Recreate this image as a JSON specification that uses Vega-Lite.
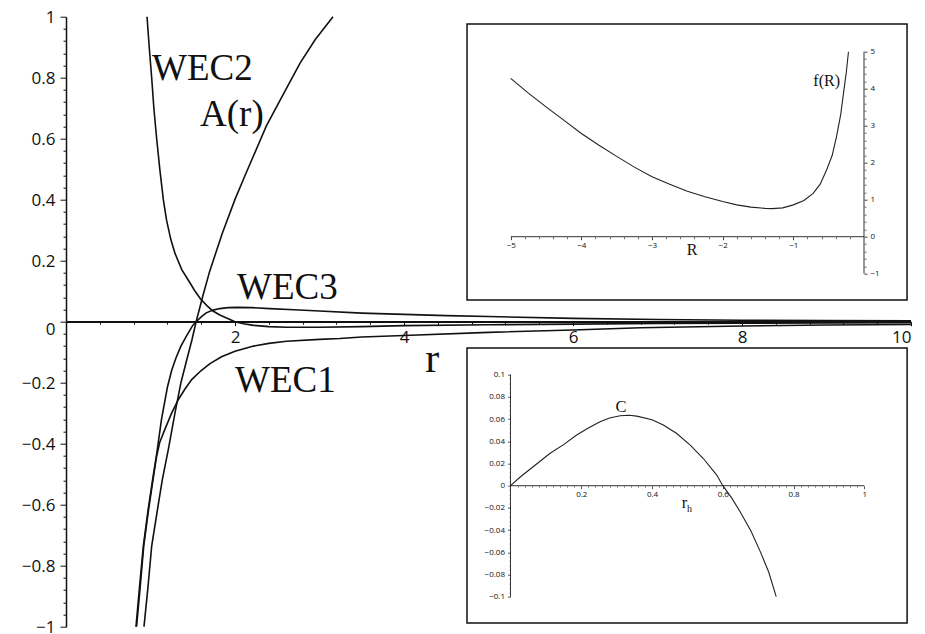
{
  "$schema": "https://vega.github.io/schema/vega-lite/v6.json",
  "autosize": {"type": "none"},
  "padding": {"left": 66, "top": 16.7, "right": 14, "bottom": 7.3},
  "background": "white",
  "width": 845,
  "height": 610,
  "config": {
    "axis": {"grid": false, "domainColor": "#111", "tickColor": "#111", "labelColor": "#111", "labelFont": "Open Sans", "labelOverlap": false, "labelFlush": false, "title": null},
    "view": {"stroke": null}
  },
  "resolve": {
    "scale": {"x": "independent", "y": "independent"},
    "axis": {"x": "independent", "y": "independent"}
  },
  "layer": [
    {
      "data": {"values": [
        {"s": "WEC2", "r": 0.959, "v": 1.0}, {"s": "WEC2", "r": 0.985, "v": 0.9}, {"s": "WEC2", "r": 1.014, "v": 0.8}, {"s": "WEC2", "r": 1.04, "v": 0.7}, {"s": "WEC2", "r": 1.073, "v": 0.6}, {"s": "WEC2", "r": 1.11, "v": 0.5}, {"s": "WEC2", "r": 1.152, "v": 0.4}, {"s": "WEC2", "r": 1.19, "v": 0.333}, {"s": "WEC2", "r": 1.24, "v": 0.27}, {"s": "WEC2", "r": 1.29, "v": 0.224}, {"s": "WEC2", "r": 1.37, "v": 0.171}, {"s": "WEC2", "r": 1.45, "v": 0.135}, {"s": "WEC2", "r": 1.52, "v": 0.103}, {"s": "WEC2", "r": 1.59, "v": 0.075}, {"s": "WEC2", "r": 1.67, "v": 0.052}, {"s": "WEC2", "r": 1.74, "v": 0.035}, {"s": "WEC2", "r": 1.82, "v": 0.022}, {"s": "WEC2", "r": 1.9, "v": 0.012}, {"s": "WEC2", "r": 2.0, "v": 0.0}, {"s": "WEC2", "r": 2.1, "v": -0.007}, {"s": "WEC2", "r": 2.22, "v": -0.012}, {"s": "WEC2", "r": 2.4, "v": -0.016}, {"s": "WEC2", "r": 2.61, "v": -0.018}, {"s": "WEC2", "r": 3.0, "v": -0.018}, {"s": "WEC2", "r": 3.5, "v": -0.016}, {"s": "WEC2", "r": 4.0, "v": -0.013}, {"s": "WEC2", "r": 5.0, "v": -0.01}, {"s": "WEC2", "r": 6.0, "v": -0.008}, {"s": "WEC2", "r": 7.0, "v": -0.006}, {"s": "WEC2", "r": 8.0, "v": -0.005}, {"s": "WEC2", "r": 9.0, "v": -0.004}, {"s": "WEC2", "r": 10.0, "v": -0.003},
        {"s": "A", "r": 0.923, "v": -1.0}, {"s": "A", "r": 0.97, "v": -0.87}, {"s": "A", "r": 1.014, "v": -0.736}, {"s": "A", "r": 1.08, "v": -0.62}, {"s": "A", "r": 1.14, "v": -0.518}, {"s": "A", "r": 1.21, "v": -0.42}, {"s": "A", "r": 1.29, "v": -0.299}, {"s": "A", "r": 1.36, "v": -0.2}, {"s": "A", "r": 1.43, "v": -0.124}, {"s": "A", "r": 1.49, "v": -0.06}, {"s": "A", "r": 1.54, "v": 0.0}, {"s": "A", "r": 1.62, "v": 0.085}, {"s": "A", "r": 1.7, "v": 0.165}, {"s": "A", "r": 1.85, "v": 0.29}, {"s": "A", "r": 2.0, "v": 0.401}, {"s": "A", "r": 2.12, "v": 0.48}, {"s": "A", "r": 2.37, "v": 0.641}, {"s": "A", "r": 2.55, "v": 0.735}, {"s": "A", "r": 2.77, "v": 0.848}, {"s": "A", "r": 2.95, "v": 0.925}, {"s": "A", "r": 3.16, "v": 1.0},
        {"s": "WEC3", "r": 0.828, "v": -1.0}, {"s": "WEC3", "r": 0.87, "v": -0.87}, {"s": "WEC3", "r": 0.915, "v": -0.736}, {"s": "WEC3", "r": 0.97, "v": -0.62}, {"s": "WEC3", "r": 1.025, "v": -0.518}, {"s": "WEC3", "r": 1.075, "v": -0.43}, {"s": "WEC3", "r": 1.13, "v": -0.32}, {"s": "WEC3", "r": 1.2, "v": -0.215}, {"s": "WEC3", "r": 1.25, "v": -0.16}, {"s": "WEC3", "r": 1.3, "v": -0.12}, {"s": "WEC3", "r": 1.36, "v": -0.08}, {"s": "WEC3", "r": 1.43, "v": -0.045}, {"s": "WEC3", "r": 1.5, "v": -0.012}, {"s": "WEC3", "r": 1.54, "v": 0.0}, {"s": "WEC3", "r": 1.6, "v": 0.016}, {"s": "WEC3", "r": 1.66, "v": 0.029}, {"s": "WEC3", "r": 1.74, "v": 0.038}, {"s": "WEC3", "r": 1.82, "v": 0.043}, {"s": "WEC3", "r": 1.92, "v": 0.046}, {"s": "WEC3", "r": 2.02, "v": 0.047}, {"s": "WEC3", "r": 2.2, "v": 0.046}, {"s": "WEC3", "r": 2.41, "v": 0.043}, {"s": "WEC3", "r": 2.7, "v": 0.039}, {"s": "WEC3", "r": 3.0, "v": 0.035}, {"s": "WEC3", "r": 3.5, "v": 0.028}, {"s": "WEC3", "r": 4.0, "v": 0.024}, {"s": "WEC3", "r": 4.5, "v": 0.02}, {"s": "WEC3", "r": 5.0, "v": 0.017}, {"s": "WEC3", "r": 6.0, "v": 0.011}, {"s": "WEC3", "r": 7.0, "v": 0.007}, {"s": "WEC3", "r": 8.0, "v": 0.005}, {"s": "WEC3", "r": 9.0, "v": 0.004}, {"s": "WEC3", "r": 10.0, "v": 0.003},
        {"s": "WEC1", "r": 0.835, "v": -1.0}, {"s": "WEC1", "r": 0.878, "v": -0.87}, {"s": "WEC1", "r": 0.92, "v": -0.736}, {"s": "WEC1", "r": 0.975, "v": -0.62}, {"s": "WEC1", "r": 1.03, "v": -0.518}, {"s": "WEC1", "r": 1.07, "v": -0.445}, {"s": "WEC1", "r": 1.11, "v": -0.395}, {"s": "WEC1", "r": 1.17, "v": -0.353}, {"s": "WEC1", "r": 1.25, "v": -0.3}, {"s": "WEC1", "r": 1.33, "v": -0.255}, {"s": "WEC1", "r": 1.41, "v": -0.22}, {"s": "WEC1", "r": 1.49, "v": -0.189}, {"s": "WEC1", "r": 1.6, "v": -0.16}, {"s": "WEC1", "r": 1.7, "v": -0.138}, {"s": "WEC1", "r": 1.84, "v": -0.115}, {"s": "WEC1", "r": 2.0, "v": -0.097}, {"s": "WEC1", "r": 2.22, "v": -0.08}, {"s": "WEC1", "r": 2.4, "v": -0.071}, {"s": "WEC1", "r": 2.61, "v": -0.064}, {"s": "WEC1", "r": 3.0, "v": -0.058}, {"s": "WEC1", "r": 3.24, "v": -0.055}, {"s": "WEC1", "r": 3.5, "v": -0.05}, {"s": "WEC1", "r": 4.0, "v": -0.045}, {"s": "WEC1", "r": 5.0, "v": -0.035}, {"s": "WEC1", "r": 6.0, "v": -0.027}, {"s": "WEC1", "r": 6.8, "v": -0.02}, {"s": "WEC1", "r": 8.0, "v": -0.014}, {"s": "WEC1", "r": 9.0, "v": -0.011}, {"s": "WEC1", "r": 10.0, "v": -0.009}
      ]},
      "mark": {"type": "line", "color": "#111", "strokeWidth": 1.6},
      "encoding": {
        "x": {"field": "r", "type": "quantitative", "scale": {"domain": [0, 10], "nice": false, "zero": false},
          "axis": {"orient": "bottom", "offset": -305, "format": "~r", "values": [2, 4, 6, 8, 10],
            "tickSize": 4, "labelFontSize": 17, "labelPadding": 4, "domainWidth": 1.5, "tickWidth": 1, "labelFlush": true}},
        "y": {"field": "v", "type": "quantitative", "scale": {"domain": [-1, 1], "nice": false, "zero": false},
          "axis": {"orient": "left", "format": "~r", "values": [-1, -0.8, -0.6, -0.4, -0.2, 0.2, 0.4, 0.6, 0.8, 1],
            "tickSize": 6, "labelOffset": 1, "labelFontSize": 17, "labelPadding": 5, "domainWidth": 1.5, "tickWidth": 1}},
        "detail": {"field": "s"}
      }
    },
    {
      "data": {"values": [
        {"t": "WEC2", "r": 1.018, "v": 0.792},
        {"t": "A(r)", "r": 1.586, "v": 0.642},
        {"t": "WEC3", "r": 2.024, "v": 0.073},
        {"t": "WEC1", "r": 2.0, "v": -0.2295},
        {"t": "r", "r": 4.25, "v": -0.165}
      ]},
      "mark": {"type": "text", "font": "Liberation Serif", "align": "left", "baseline": "alphabetic", "color": "#111"},
      "encoding": {
        "x": {"field": "r", "type": "quantitative", "scale": {"domain": [0, 10], "nice": false, "zero": false},
          "axis": {"orient": "bottom", "offset": -305, "domain": false, "labels": false,
            "values": [0.4, 0.8, 1.2, 1.6, 2.4, 2.8, 3.2, 3.6, 4.4, 4.8, 5.2, 5.6, 6.4, 6.8, 7.2, 7.6, 8.4, 8.8, 9.2, 9.6],
            "tickSize": 2.5, "tickWidth": 1}},
        "y": {"field": "v", "type": "quantitative", "scale": {"domain": [-1, 1], "nice": false, "zero": false},
          "axis": {"orient": "left", "domain": false, "labels": false,
            "values": [-0.96, -0.92, -0.88, -0.84, -0.76, -0.72, -0.68, -0.64, -0.56, -0.52, -0.48, -0.44, -0.36, -0.32, -0.28, -0.24, -0.16, -0.12, -0.08, -0.04, 0.04, 0.08, 0.12, 0.16, 0.24, 0.28, 0.32, 0.36, 0.44, 0.48, 0.52, 0.56, 0.64, 0.68, 0.72, 0.76, 0.84, 0.88, 0.92, 0.96],
            "tickSize": 3, "tickWidth": 1}},
        "text": {"field": "t"},
        "size": {"condition": {"test": "datum.t === 'r'", "value": 42}, "value": 37}
      }
    },
    {
      "data": {"values": [{"a": 0, "b": 10, "v": 0}]},
      "mark": {"type": "rule", "color": "#111", "strokeWidth": 1.5},
      "encoding": {
        "x": {"field": "a", "type": "quantitative", "scale": {"domain": [0, 10], "nice": false, "zero": false}, "axis": null},
        "x2": {"field": "b"},
        "y": {"field": "v", "type": "quantitative", "scale": {"domain": [-1, 1], "nice": false, "zero": false},
          "axis": {"orient": "left", "domain": false, "format": "~r", "values": [0], "tickSize": 6, "labelOffset": 8, "labelFontSize": 17, "labelPadding": 5, "tickWidth": 1}}
      }
    },
    {
      "data": {"values": [{"x": -5.618, "x2": 0.609, "y": -1.711, "y2": 5.749}]},
      "mark": {"type": "rect", "fill": "white", "stroke": "#111", "strokeWidth": 1.5},
      "encoding": {
        "x": {"field": "x", "type": "quantitative", "scale": {"domain": [-11.2935, 0.665], "nice": false, "zero": false}, "axis": null},
        "x2": {"field": "x2"},
        "y": {"field": "y", "type": "quantitative", "scale": {"domain": [-10.541, 5.946], "nice": false, "zero": false}, "axis": null},
        "y2": {"field": "y2"}
      }
    },
    {
      "data": {"values": [{"x": -5, "x2": 0, "y": 0, "y2": 0}, {"x": 0, "x2": 0, "y": -1, "y2": 5}]},
      "mark": {"type": "rule", "color": "#333", "strokeWidth": 1},
      "encoding": {
        "x": {"field": "x", "type": "quantitative", "scale": {"domain": [-11.2935, 0.665], "nice": false, "zero": false},
          "axis": {"orient": "bottom", "offset": -390, "domain": false, "labels": false, "zindex": 2,
            "values": [-4.8, -4.6, -4.4, -4.2, -3.8, -3.6, -3.4, -3.2, -2.8, -2.6, -2.4, -2.2, -1.8, -1.6, -1.4, -1.2, -0.8, -0.6, -0.4, -0.2],
            "tickSize": 2, "tickWidth": 0.8, "tickColor": "#444"}},
        "x2": {"field": "x2"},
        "y": {"field": "y", "type": "quantitative", "scale": {"domain": [-10.541, 5.946], "nice": false, "zero": false},
          "axis": {"orient": "right", "offset": -47, "domain": false, "labels": false, "zindex": 2,
            "values": [-0.8, -0.6, -0.4, -0.2, 0.2, 0.4, 0.6, 0.8, 1.2, 1.4, 1.6, 1.8, 2.2, 2.4, 2.6, 2.8, 3.2, 3.4, 3.6, 3.8, 4.2, 4.4, 4.6, 4.8],
            "tickSize": 2, "tickWidth": 0.8, "tickColor": "#444"}},
        "y2": {"field": "y2"}
      }
    },
    {
      "data": {"values": [
        {"x": -5, "y": 4.28}, {"x": -4.75, "y": 3.88}, {"x": -4.5, "y": 3.51}, {"x": -4.25, "y": 3.15}, {"x": -4, "y": 2.79}, {"x": -3.75, "y": 2.47}, {"x": -3.5, "y": 2.17}, {"x": -3.25, "y": 1.88}, {"x": -3, "y": 1.62}, {"x": -2.75, "y": 1.42}, {"x": -2.5, "y": 1.23}, {"x": -2.25, "y": 1.08}, {"x": -2, "y": 0.95}, {"x": -1.8, "y": 0.86}, {"x": -1.6, "y": 0.8}, {"x": -1.4, "y": 0.765}, {"x": -1.3, "y": 0.76}, {"x": -1.15, "y": 0.78}, {"x": -1.0, "y": 0.86}, {"x": -0.85, "y": 0.98}, {"x": -0.72, "y": 1.17}, {"x": -0.62, "y": 1.42}, {"x": -0.53, "y": 1.8}, {"x": -0.45, "y": 2.2}, {"x": -0.39, "y": 2.7}, {"x": -0.33, "y": 3.3}, {"x": -0.29, "y": 3.88}, {"x": -0.25, "y": 4.45}, {"x": -0.22, "y": 5.0}
      ]},
      "mark": {"type": "line", "color": "#222", "strokeWidth": 1.1},
      "encoding": {
        "x": {"field": "x", "type": "quantitative", "scale": {"domain": [-11.2935, 0.665], "nice": false, "zero": false},
          "axis": {"orient": "bottom", "offset": -390, "domain": false, "format": "~r", "values": [-5, -4, -3, -2, -1], "zindex": 2,
            "tickSize": 3, "labelFontSize": 8, "labelPadding": 2, "tickWidth": 0.8}},
        "y": {"field": "y", "type": "quantitative", "scale": {"domain": [-10.541, 5.946], "nice": false, "zero": false},
          "axis": {"orient": "right", "offset": -47, "domain": false, "format": "~r", "values": [-1, 0, 1, 2, 3, 4, 5], "zindex": 2,
            "tickSize": 3, "labelFontSize": 8, "labelPadding": 3, "tickWidth": 0.8}}
      }
    },
    {
      "data": {"values": [
        {"t": "f(R)", "x": -0.717, "y": 4.07},
        {"t": "R", "x": -2.509, "y": -0.495}
      ]},
      "mark": {"type": "text", "font": "Liberation Serif", "align": "left", "baseline": "alphabetic", "color": "#111", "fontSize": 16},
      "encoding": {
        "x": {"field": "x", "type": "quantitative", "scale": {"domain": [-11.2935, 0.665], "nice": false, "zero": false}, "axis": null},
        "y": {"field": "y", "type": "quantitative", "scale": {"domain": [-10.541, 5.946], "nice": false, "zero": false}, "axis": null},
        "text": {"field": "t"}
      }
    },
    {
      "data": {"values": [{"x": -0.123, "x2": 1.121, "y": -0.1237, "y2": 0.124}]},
      "mark": {"type": "rect", "fill": "white", "stroke": "#111", "strokeWidth": 1.5},
      "encoding": {
        "x": {"field": "x", "type": "quantitative", "scale": {"domain": [-1.2564, 1.132], "nice": false, "zero": false}, "axis": null},
        "x2": {"field": "x2"},
        "y": {"field": "y", "type": "quantitative", "scale": {"domain": [-0.12703, 0.42252], "nice": false, "zero": false}, "axis": null},
        "y2": {"field": "y2"}
      }
    },
    {
      "data": {"values": [{"x": 0, "x2": 1, "y": 0, "y2": 0}, {"x": 0, "x2": 0, "y": -0.1, "y2": 0.1}]},
      "mark": {"type": "rule", "color": "#333", "strokeWidth": 1},
      "encoding": {
        "x": {"field": "x", "type": "quantitative", "scale": {"domain": [-1.2564, 1.132], "nice": false, "zero": false},
          "axis": {"orient": "bottom", "offset": -141, "domain": false, "labels": false, "zindex": 2,
            "values": [0.02, 0.04, 0.06, 0.08, 0.1, 0.12, 0.14, 0.16, 0.18, 0.22, 0.24, 0.26, 0.28, 0.3, 0.32, 0.34, 0.36, 0.38, 0.42, 0.44, 0.46, 0.48, 0.5, 0.52, 0.54, 0.56, 0.58, 0.62, 0.64, 0.66, 0.68, 0.7, 0.72, 0.74, 0.76, 0.78, 0.82, 0.84, 0.86, 0.88, 0.9, 0.92, 0.94, 0.96, 0.98],
            "tickSize": 1.5, "tickWidth": 0.7, "tickColor": "#444"}},
        "x2": {"field": "x2"},
        "y": {"field": "y", "type": "quantitative", "scale": {"domain": [-0.12703, 0.42252], "nice": false, "zero": false},
          "axis": {"orient": "left", "offset": -444.5, "domain": false, "labels": false, "zindex": 2,
            "values": [-0.096, -0.092, -0.088, -0.084, -0.076, -0.072, -0.068, -0.064, -0.056, -0.052, -0.048, -0.044, -0.036, -0.032, -0.028, -0.024, -0.016, -0.012, -0.008, -0.004, 0.004, 0.008, 0.012, 0.016, 0.024, 0.028, 0.032, 0.036, 0.044, 0.048, 0.052, 0.056, 0.064, 0.068, 0.072, 0.076, 0.084, 0.088, 0.092, 0.096],
            "tickSize": 1.5, "tickWidth": 0.7, "tickColor": "#444"}},
        "y2": {"field": "y2"}
      }
    },
    {
      "data": {"values": [
        {"x": 0, "y": 0}, {"x": 0.03, "y": 0.0085}, {"x": 0.064, "y": 0.0171}, {"x": 0.112, "y": 0.0292}, {"x": 0.15, "y": 0.037}, {"x": 0.187, "y": 0.0456}, {"x": 0.22, "y": 0.052}, {"x": 0.253, "y": 0.0576}, {"x": 0.28, "y": 0.061}, {"x": 0.31, "y": 0.063}, {"x": 0.335, "y": 0.0635}, {"x": 0.357, "y": 0.0627}, {"x": 0.4, "y": 0.0595}, {"x": 0.432, "y": 0.0546}, {"x": 0.47, "y": 0.047}, {"x": 0.508, "y": 0.0366}, {"x": 0.545, "y": 0.0245}, {"x": 0.583, "y": 0.0096}, {"x": 0.6, "y": 0.0}, {"x": 0.625, "y": -0.011}, {"x": 0.649, "y": -0.0234}, {"x": 0.68, "y": -0.041}, {"x": 0.706, "y": -0.0594}, {"x": 0.73, "y": -0.078}, {"x": 0.751, "y": -0.1}
      ]},
      "mark": {"type": "line", "color": "#222", "strokeWidth": 1.1},
      "encoding": {
        "x": {"field": "x", "type": "quantitative", "scale": {"domain": [-1.2564, 1.132], "nice": false, "zero": false},
          "axis": {"orient": "bottom", "offset": -141, "domain": false, "format": "~r", "values": [0.2, 0.4, 0.6, 0.8, 1], "zindex": 2,
            "tickSize": 3, "labelFontSize": 8, "labelPadding": 2, "tickWidth": 0.7}},
        "y": {"field": "y", "type": "quantitative", "scale": {"domain": [-0.12703, 0.42252], "nice": false, "zero": false},
          "axis": {"orient": "left", "offset": -444.5, "domain": false, "format": "~r", "zindex": 2,
            "values": [-0.1, -0.08, -0.06, -0.04, -0.02, 0, 0.02, 0.04, 0.06, 0.08, 0.1],
            "tickSize": 3, "labelFontSize": 8, "labelPadding": 3, "tickWidth": 0.7}}
      }
    },
    {
      "data": {"values": [
        {"t": "C", "x": 0.297, "y": 0.0661, "k": "main"},
        {"t": "r", "x": 0.484, "y": -0.0204, "k": "main"},
        {"t": "h", "x": 0.499, "y": -0.0234, "k": "sub"}
      ]},
      "mark": {"type": "text", "font": "Liberation Serif", "align": "left", "baseline": "alphabetic", "color": "#111"},
      "encoding": {
        "x": {"field": "x", "type": "quantitative", "scale": {"domain": [-1.2564, 1.132], "nice": false, "zero": false}, "axis": null},
        "y": {"field": "y", "type": "quantitative", "scale": {"domain": [-0.12703, 0.42252], "nice": false, "zero": false}, "axis": null},
        "text": {"field": "t"},
        "size": {"condition": {"test": "datum.k === 'sub'", "value": 10}, "value": 16.5}
      }
    }
  ]
}
